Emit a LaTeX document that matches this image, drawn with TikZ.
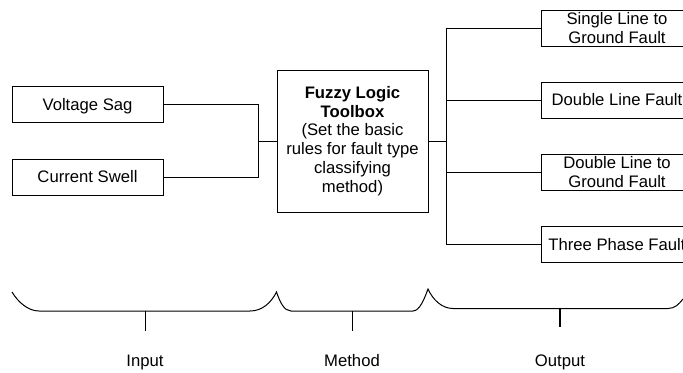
\documentclass[tikz,border=0pt]{standalone}
\usepackage{fontspec}
\setmainfont{Liberation Sans}
\begin{document}
\begin{tikzpicture}[x=0.75pt,y=-0.75pt,
  box/.style={draw=black,line width=0.75pt,minimum width=113.25pt,inner sep=0pt,align=center,font=\fontsize{12.5}{14.1}\selectfont},
  smallbox/.style={box,minimum height=27pt},
  wire/.style={draw=black,line width=0.75pt},
  cap text/.style={font=\fontsize{12.5}{14.1}\selectfont,inner sep=0pt,anchor=base}]
\useasboundingbox (0,0) rectangle (683,372);
\clip (0,0) rectangle (683,372);
\node[smallbox] (vs) at (87.5,104.5) {\raisebox{-4.5pt}[0pt][0pt]{Voltage Sag}};
\node[smallbox] (cs) at (87.5,177) {Current Swell};
\node[box,minimum height=106.5pt] (flt) at (352.5,141) {\textbf{Fuzzy Logic}\\\textbf{Toolbox}\\(Set the basic\\rules for fault type\\classifying\\method)};
\node[smallbox] (sl) at (617,28) {Single Line to\\Ground Fault};
\node[smallbox] (dl) at (617,100) {Double Line Fault};
\node[smallbox] (dg) at (617,172) {Double Line to\\Ground Fault};
\node[smallbox] (tp) at (617,244.5) {Three Phase Fault};
\coordinate (jl) at (258,141);
\coordinate (jr) at (446.5,141);
\draw[wire] (vs.east) -| (jl) (cs.east) -| (jl) (jl) -- (flt.west);
\draw[wire] (flt.east) -- (jr);
\draw[wire] (sl.west) -| (jr) (dl.west) -| (jr) (dg.west) -| (jr) (tp.west) -| (jr);
\coordinate (b1a) at (12,292);
\coordinate (b1p) at (145,311);
\coordinate (b1b) at (276.5,292);
\coordinate (b2p) at (352,311);
\coordinate (b2b) at (428,289);
\coordinate (b3p) at (560,308.5);
\coordinate (b3b) at (683,299);
\draw[wire] (b1a) .. controls (18,302) and (28,311) .. (39,311) -- (b1p) -- (250,311) .. controls (262,311) and (271,303) .. (b1b)
  .. controls (280,302) and (284,311) .. (291,311) -- (b2p) -- (413,311) .. controls (420,311) and (425,297) .. (b2b)
  .. controls (433,300) and (442,308.5) .. (453,308.5) -- (b3p) -- (668,308.5) .. controls (675,308.5) and (679,304) .. (b3b);
\node[cap text] (inp) at (145,366) {Input};
\node[cap text] (met) at (352,366) {Method};
\node[cap text] (out) at (560,366) {Output};
\coordinate (t1) at (145,330.5);
\coordinate (t2) at (352,330.5);
\coordinate (t3) at (560,327);
\draw[wire] (b1p) -- (t1);
\draw[wire] (b2p) -- (t2);
\draw[wire,line width=1pt] (b3p) -- (t3);
\end{tikzpicture}
\end{document}
